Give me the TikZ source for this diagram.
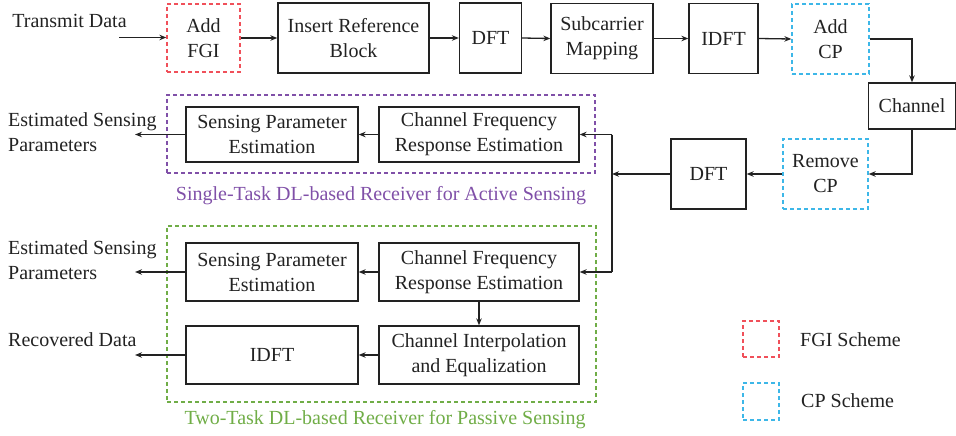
\documentclass[tikz,border=0pt]{standalone}
\usepackage{fontspec}
\setmainfont{Liberation Serif}
\usetikzlibrary{arrows.meta}
\definecolor{txt}{HTML}{222222}
\definecolor{fgired}{HTML}{F0505A}
\definecolor{cpcyan}{HTML}{3DB7E8}
\definecolor{purp}{HTML}{8050A8}
\definecolor{grn}{HTML}{70AD47}
\tikzset{
  blk/.style={draw=txt, line width=1.3pt, inner sep=0pt, align=center, text=txt},
  fgibox/.style={blk, draw=fgired, dash pattern=on 4pt off 3pt},
  cpbox/.style={blk, draw=cpcyan, dash pattern=on 4pt off 3pt},
  lbl/.style={inner sep=0pt, text=txt, align=left},
  arr/.style={draw=txt, line width=1.3pt, -{Stealth[length=7pt,width=5.5pt]}},
  ln/.style={draw=txt, line width=1.3pt},
  grp/.style={line width=1.2pt, dash pattern=on 4pt off 3pt}
}
\begin{document}
\begin{tikzpicture}[x=1pt,y=-1pt,font=\fontsize{20}{25}\selectfont]
\useasboundingbox (0,0) rectangle (956,436);
% top row
\node[lbl] (tx) at (69.5,21) {Transmit Data};
\coordinate (txa) at (119,37.5);
\node[fgibox, minimum width=73pt, minimum height=68pt] (fgi) at (203.5,38) {Add\\FGI};
\node[blk, minimum width=151pt, minimum height=70pt] (irb) at (353.5,38) {Insert Reference\\Block};
\node[blk, minimum width=62pt, minimum height=70pt] (dft1) at (490.5,38) {DFT};
\node[blk, minimum width=102pt, minimum height=70pt] (scm) at (602,38.5) {Subcarrier\\Mapping};
\node[blk, minimum width=69pt, minimum height=70pt] (idft1) at (723.5,38.5) {IDFT};
\node[cpbox, minimum width=77pt, minimum height=70pt] (acp) at (830.5,39) {Add\\CP};
\node[blk, minimum width=87pt, minimum height=46pt] (chan) at (912,106) {Channel};
\node[cpbox, minimum width=85pt, minimum height=70pt] (rcp) at (825.5,174) {Remove\\CP};
\node[blk, minimum width=75pt, minimum height=70pt] (dft2) at (708.5,174) {DFT};
\coordinate (j) at (612,174);
\coordinate (jt) at (612,134.5);
\coordinate (jb) at (612,272);

\draw[arr] (txa) -- (txa -| fgi.west);
\draw[arr] (fgi.east) -- (irb.west);
\draw[arr] (irb.east) -- (dft1.west);
\draw[arr] (dft1.east) -- (scm.west);
\draw[arr] (scm.east) -- (idft1.west);
\draw[arr] (idft1.east) -- (acp.west);
\draw[arr] (acp.east) -| (chan.north);
\draw[arr] (chan.south) |- (rcp.east);
\draw[arr] (rcp.west) -- (dft2.east);
\draw[arr] (dft2.west) -- (j);

% single-task receiver
\node[draw=purp, grp, minimum width=428pt, minimum height=78pt, inner sep=0pt] (pbox) at (381,134) {};
\node[blk, minimum width=172pt, minimum height=55pt] (spe1) at (272,134.5) {Sensing Parameter\\Estimation};
\node[blk, minimum width=200pt, minimum height=55pt] (cfr1) at (479,134.5) {Channel Frequency\\Response Estimation};
\node[lbl, anchor=west] (est1) at (8,132.5) {Estimated Sensing\\Parameters};
\coordinate (e1) at (135,134.5);
\node[inner sep=0pt, text=purp] (plab) at (381,196) {Single-Task DL-based Receiver for Active Sensing};

% two-task receiver
\node[draw=grn, grp, minimum width=429pt, minimum height=176pt, inner sep=0pt] (gbox) at (381.5,314) {};
\node[blk, minimum width=172pt, minimum height=58pt] (spe2) at (272,272) {Sensing Parameter\\Estimation};
\node[blk, minimum width=200pt, minimum height=58pt] (cfr2) at (479,272) {Channel Frequency\\Response Estimation};
\node[blk, minimum width=200pt, minimum height=58pt] (cie) at (479,355) {Channel Interpolation\\and Equalization};
\node[blk, minimum width=172pt, minimum height=58pt] (idft2) at (272,355) {IDFT};
\node[lbl, anchor=west] (est2) at (8,260.5) {Estimated Sensing\\Parameters};
\node[lbl, anchor=west] (rec) at (8,340) {Recovered Data};
\coordinate (e2) at (135,272);
\coordinate (e3) at (135,355);
\node[inner sep=0pt, text=grn] (glab) at (385,420) {Two-Task DL-based Receiver for Passive Sensing};

\draw[ln] (jt) -- (jb);
\draw[arr] (jt) -- (cfr1.east);
\draw[arr] (jb) -- (cfr2.east);
\draw[arr] (cfr1.west) -- (spe1.east);
\draw[arr] (spe1.west) -- (e1);
\draw[arr] (cfr2.west) -- (spe2.east);
\draw[arr] (spe2.west) -- (e2);
\draw[arr] (cfr2.south) -- (cie.north);
\draw[arr] (cie.west) -- (idft2.east);
\draw[arr] (idft2.west) -- (e3);

% legend
\node[fgibox, minimum width=36pt, minimum height=36pt] (lg1) at (761,339) {};
\node[lbl, anchor=west] (lt1) at (800,340) {FGI Scheme};
\node[cpbox, minimum width=36pt, minimum height=37pt] (lg2) at (761,401.5) {};
\node[lbl, anchor=west] (lt2) at (801,401) {CP Scheme};
\end{tikzpicture}
\end{document}
